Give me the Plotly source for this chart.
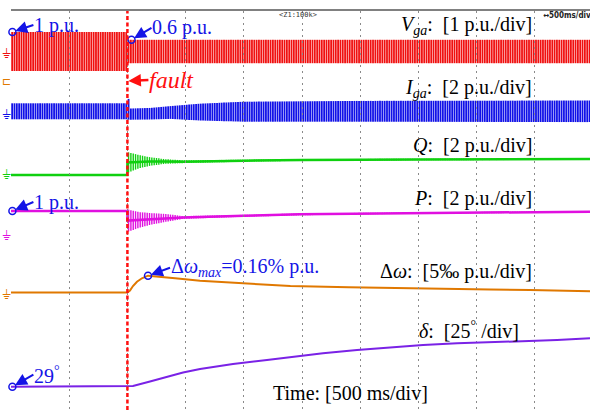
import numpy as np
import plotly.graph_objects as go

# ---------------- values ----------------
t_end   = 4.974    # s visible (about 10 div x 500 ms)
t_fault = 1.0      # s
f_grid  = 50.0     # Hz (grid frequency -> one stripe per cycle on the scope)

# V_ga envelope [p.u.]
v_t   = [0.0, 1.0, 1.0, 4.974]
v_amp = [1.0, 1.0, 0.6, 0.6]

# I_ga band: centre offset and amplitude [p.u.]
i_t      = [0.0, 1.0, 1.01, 1.03, 1.20, 1.37, 1.62, 2.00, 3.00, 4.974]
i_centre = [0.0, 0.0, 0.10, -0.14, -0.12, -0.06, -0.04, -0.02, 0.0, 0.0]
i_amp    = [0.40, 0.40, 0.52, 0.28, 0.29, 0.32, 0.42, 0.50, 0.52, 0.54]

# Q: mean and oscillation envelope [p.u.]
q_t    = [0.0, 1.0, 1.0, 1.10, 1.19, 1.32, 1.48, 2.0, 2.5, 3.5, 4.974]
q_mean = [0.0, 0.0, 0.625, 0.67, 0.675, 0.675, 0.665, 0.715, 0.75, 0.775, 0.80]
q_osc  = [0.0, 0.0, 0.52, 0.33, 0.22, 0.12, 0.07, 0.05, 0.04, 0.04, 0.04]

# P: mean and oscillation envelope [p.u.]
p_t    = [0.0, 1.0, 1.0, 1.10, 1.19, 1.32, 1.48, 2.0, 2.48, 3.17, 4.974]
p_mean = [1.0, 1.0, 0.60, 0.625, 0.667, 0.71, 0.73, 0.80, 0.86, 0.90, 0.97]
p_osc  = [0.0, 0.0, 0.47, 0.33, 0.25, 0.17, 0.06, 0.04, 0.04, 0.03, 0.03]

# delta omega [per mille p.u.]
w_t   = [0.0, 1.0, 1.022, 1.048, 1.082, 1.125, 1.177, 1.28, 1.41, 1.624,
         2.053, 2.4, 2.9, 3.256, 3.7, 4.115, 4.459, 4.974]
w_val = [0.0, 0.0, 0.23, 0.81, 1.35, 1.78, 2.10, 1.98, 1.78, 1.48,
         1.06, 0.80, 0.65, 0.55, 0.47, 0.39, 0.31, 0.15]

# power angle delta [deg]
d_t   = [0.0, 1.0, 1.048, 1.194, 1.340, 1.478, 1.624, 1.907, 2.199, 2.483,
         2.680, 2.973, 3.256, 3.540, 3.832, 4.115, 4.399, 4.691, 4.974]
d_val = [29.0, 29.0, 29.4, 32.25, 35.1, 37.9, 40.1, 43.2, 45.7, 48.4,
         49.9, 51.9, 53.4, 55.1, 56.1, 56.75, 57.6, 58.2, 59.25]

# marked points for the blue call-outs
v_mark_t, v_mark_val = [0.012, 1.035], [1.0, 0.6]

# ---------------- layout geometry (pixels) ----------------
W, H = 590, 410
L, T = 11, 11
PW, PH = W - L, H - T


def px(xp):
    return (xp - L) / PW


def py(yp):
    return (H - yp) / PH


def chan_range(zero_py, ppu):
    return [(zero_py - H) / ppu, (zero_py - T) / ppu]


# one vertical stripe per grid cycle, spanning the band of the trace
tc = np.arange(0.5 / f_grid, t_end, 1.0 / f_grid)


def stripes(lo, hi):
    xs = np.repeat(tc, 3).astype(object)
    ys = np.empty(tc.size * 3, dtype=object)
    ys[0::3] = lo
    ys[1::3] = hi
    ys[2::3] = None
    xs[2::3] = None
    return list(xs), list(ys)


v_env = np.interp(tc, v_t, v_amp)
i_c, i_a = np.interp(tc, i_t, i_centre), np.interp(tc, i_t, i_amp)
q_m, q_a = np.interp(tc, q_t, q_mean), np.interp(tc, q_t, q_osc)
p_m, p_a = np.interp(tc, p_t, p_mean), np.interp(tc, p_t, p_osc)

RED, BLUE, GREEN, MAG, ORANGE, PURPLE = "#f01010", "#1010e8", "#10d010", "#e010e0", "#e07800", "#7a22e6"
ABLUE = "#1414e6"

fig = go.Figure()
x, y = stripes(-v_env, v_env)
fig.add_trace(go.Scatter(x=x, y=y, yaxis="y2", mode="lines", line=dict(color=RED, width=1.8)))
x, y = stripes(i_c - i_a, i_c + i_a)
fig.add_trace(go.Scatter(x=x, y=y, yaxis="y3", mode="lines", line=dict(color=BLUE, width=1.8)))
fig.add_trace(go.Scatter(x=q_t, y=q_mean, yaxis="y4", mode="lines", line=dict(color=GREEN, width=2.5)))
x, y = stripes(q_m - q_a, q_m + q_a)
fig.add_trace(go.Scatter(x=x, y=y, yaxis="y4", mode="lines", line=dict(color=GREEN, width=1.4)))
fig.add_trace(go.Scatter(x=p_t, y=p_mean, yaxis="y5", mode="lines", line=dict(color=MAG, width=2.5)))
x, y = stripes(p_m - p_a, p_m + p_a)
fig.add_trace(go.Scatter(x=x, y=y, yaxis="y5", mode="lines", line=dict(color=MAG, width=1.4)))
fig.add_trace(go.Scatter(x=w_t, y=w_val, yaxis="y6", mode="lines", line=dict(color=ORANGE, width=2)))
fig.add_trace(go.Scatter(x=d_t, y=d_val, yaxis="y7", mode="lines", line=dict(color=PURPLE, width=2)))

# call-out circles
mk = dict(symbol="circle-open", size=7, color=ABLUE, line=dict(width=1.5, color=ABLUE))
iw = int(np.argmax(w_val))
fig.add_trace(go.Scatter(x=v_mark_t, y=v_mark_val, yaxis="y2", mode="markers", marker=mk, cliponaxis=False))
fig.add_trace(go.Scatter(x=[0.012], y=[p_mean[0]], yaxis="y5", mode="markers", marker=mk, cliponaxis=False))
fig.add_trace(go.Scatter(x=[w_t[iw]], y=[w_val[iw]], yaxis="y6", mode="markers", marker=mk, cliponaxis=False))
fig.add_trace(go.Scatter(x=[0.012], y=[d_val[0]], yaxis="y7", mode="markers", marker=mk, cliponaxis=False))

chan = {
    "yaxis2": chan_range(51.5, 19.5),
    "yaxis3": chan_range(111.3, 20),
    "yaxis4": chan_range(175, 20),
    "yaxis5": chan_range(235, 24),
    "yaxis6": chan_range(292.5, 8),
    "yaxis7": chan_range(433.1, 1.6),
}

grid = dict(showgrid=True, gridcolor="#8a8a8a", gridwidth=1, griddash="2px,4px",
            showticklabels=False, ticks="", zeroline=False)

layout = dict(
    width=W, height=H, margin=dict(l=L, r=0, t=T, b=0),
    paper_bgcolor="white", plot_bgcolor="rgba(0,0,0,0)", showlegend=False,
    xaxis=dict(range=[0, t_end], dtick=0.5, tick0=0, side="top", showline=True,
               linecolor="#808080", linewidth=1.5, **grid),
    yaxis=dict(range=[1 / 40, 10], dtick=1, tick0=0, showline=True,
               linecolor="#444444", linewidth=2, **grid),
)
for k, r in chan.items():
    layout[k] = dict(range=r, overlaying="y", visible=False)
fig.update_layout(**layout)

# fault line
fig.add_shape(type="line", xref="x", yref="paper", x0=t_fault, x1=t_fault, y0=0, y1=1,
              line=dict(color="#ff1010", width=2.5, dash="4px,2.5px"), layer="above")

SERIF = "Liberation Serif"
ann = []


def txt(s, x, y, xanchor="left", size=20, color="black", family=SERIF):
    ann.append(dict(text=s, xref="paper", yref="paper", x=px(x), y=py(y), xanchor=xanchor,
                    yanchor="middle", showarrow=False, font=dict(family=family, size=size, color=color)))


def callout(s, x, y, yref, ax, ay, color=ABLUE, size=20, width=2, asize=1.2):
    # text box starts at the arrow tail; arrow runs from there to the marked point
    ann.append(dict(text=s, x=x, y=y, xref="x", yref=yref, ax=ax, ay=ay, showarrow=True,
                    xanchor="left", yanchor="middle", borderpad=0,
                    font=dict(family=SERIF, size=size, color=color),
                    arrowhead=2, arrowsize=asize, arrowwidth=width, arrowcolor=color, standoff=3))


# channel labels
txt("<i>V<sub>ga</sub></i>:  [1 p.u./div]", 534, 25, "right")
txt("<i>I<sub>ga</sub></i>:  [2 p.u./div]", 534, 88, "right")
txt("<i>Q</i>:  [2 p.u./div]", 534, 145, "right")
txt("<i>P</i>:  [2 p.u./div]", 534, 198, "right")
txt("Δ<i>ω</i>:  [5‰ p.u./div]", 534, 271, "right")
txt("<i>δ</i>:  [25<sup>°</sup> /div]", 521, 330, "right")
txt("Time: [500 ms/div]", 350, 393, "center")

# blue call-outs with arrows
callout("1 p.u.", v_mark_t[0], v_mark_val[0], "y2", 21, -7)
callout("0.6 p.u.", v_mark_t[1], v_mark_val[1], "y2", 20, -12)
callout("1 p.u.", 0.012, p_mean[0], "y5", 21, -9)
callout("Δ<i>ω<sub>max</sub></i>=0.16% p.u.", w_t[iw], w_val[iw], "y6", 22, -8)
callout("29<sup>°</sup>", 0.012, d_val[0], "y7", 21, -12)
ann.append(dict(text="<i>fault</i>", x=t_fault, y=py(81), xref="x", yref="paper", ax=21, ay=-1,
                showarrow=True, xanchor="left", yanchor="middle", borderpad=0,
                font=dict(family=SERIF, size=24, color="#ff1010"),
                arrowhead=2, arrowsize=1.0, arrowwidth=2.5, arrowcolor="#ff1010", standoff=1))

# scope status text
txt("&lt;Z1:100k&gt;", 298, 15, "center", size=7, color="#333333", family="DejaVu Sans Mono")
txt("<b>↔500ms/div</b>", 593, 15, "right", size=8, color="#222222", family="DejaVu Sans Condensed")

# ground / trigger markers at the left edge
for yy, c in [(53, RED), (114, BLUE), (174, GREEN), (235, MAG), (294, ORANGE)]:
    txt("⏚", 6, yy, "center", size=13, color=c, family="DejaVu Sans")
txt("⊏", 6, 81, "center", size=11, color=ORANGE, family="DejaVu Sans")

fig.update_layout(annotations=ann)
fig.write_html("out.html")
